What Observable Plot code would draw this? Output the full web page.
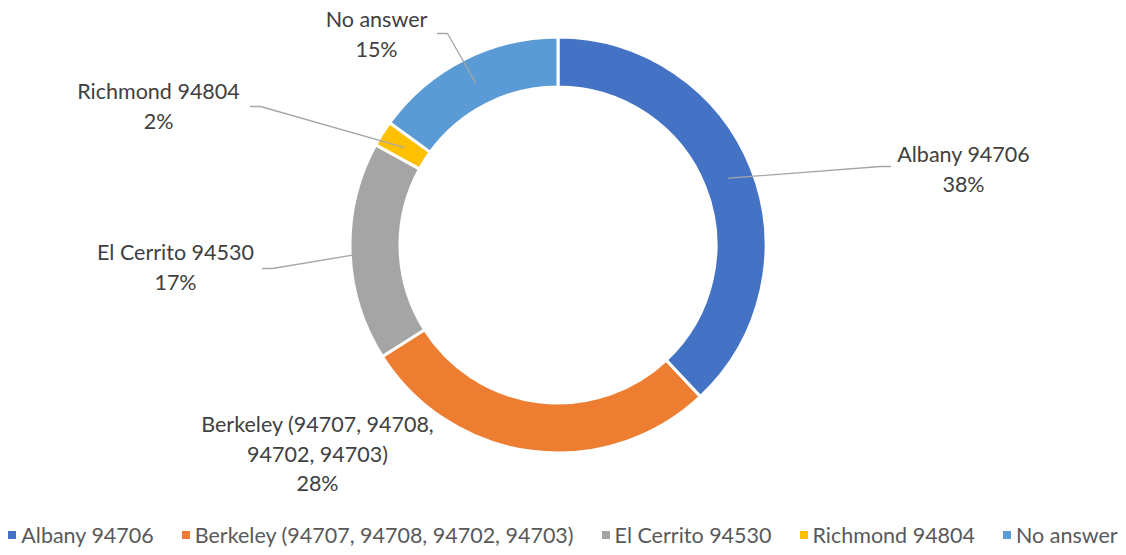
<!DOCTYPE html>
<html>
<head>
<meta charset="utf-8">
<script src="https://cdn.jsdelivr.net/npm/d3@7"></script>
<script src="https://cdn.jsdelivr.net/npm/@observablehq/plot@0.6"></script>
<style>
  html, body { margin: 0; padding: 0; background: #fff; }
  body { width: 1126px; height: 555px; overflow: hidden; font-family: Lato, "Open Sans", sans-serif; }
  #legend { display: flex; justify-content: center; align-items: center; height: 40px; color: #595959; font-size: 21.5px; gap: 28px; }
  #legend .item { display: flex; align-items: center; gap: 5px; white-space: nowrap; }
  #legend .sw { width: 8px; height: 8px; display: inline-block; }
</style>
</head>
<body>
<div id="chart"></div>
<div id="legend"></div>
<script>
// ---- data ----
const categories = ["Albany 94706", "Berkeley (94707, 94708, 94702, 94703)", "El Cerrito 94530", "Richmond 94804", "No answer"];
const shares = [38, 28, 17, 2, 15];
const labelText = ["Albany 94706", "Berkeley (94707, 94708,\n94702, 94703)", "El Cerrito 94530", "Richmond 94804", "No answer"];
const colors = ["#4472C4", "#ED7D31", "#A5A5A5", "#FFC000", "#5B9BD5"];

// ---- layout ----
const W = 1126, H = 515;
const cx = 558, cy = 245, rOuter = 208, rInner = 158;
const labelPos = [[963, 167], [317, 452], [175, 265], [158, 104], [376, 32]];
const leaderStart = [[890, 166], null, [262, 268], [250, 106], [437, 33]];

const pie = d3.pie().sort(null).value(d => d)(shares);
const rMid = (rOuter + rInner) / 2;

const slices = categories.map((c, i) => ({
  name: c, value: shares[i], color: colors[i],
  a0: pie[i].startAngle, a1: pie[i].endAngle,
  label: labelText[i] + "\n" + shares[i] + "%",
  lx: labelPos[i][0], ly: labelPos[i][1]
}));

const leaders = [];
slices.forEach((s, i) => {
  const st = leaderStart[i];
  if (!st) return;
  const am = (s.a0 + s.a1) / 2;
  const ex = cx + rMid * Math.sin(am), ey = cy - rMid * Math.cos(am);
  const dir = ex > st[0] ? 1 : -1;
  leaders.push({id: i, x: st[0], y: st[1]});
  leaders.push({id: i, x: st[0] + dir * 10, y: st[1]});
  leaders.push({id: i, x: ex, y: ey});
});

const arcGen = d3.arc().innerRadius(rInner).outerRadius(rOuter);

function donut(index, scales) {
  const g = d3.create("svg:g");
  const x0 = scales.x(cx), y0 = scales.y(cy);
  g.attr("transform", `translate(${x0},${y0})`);
  g.selectAll("path").data(slices).join("path")
    .attr("d", d => arcGen({startAngle: d.a0, endAngle: d.a1}))
    .attr("fill", d => d.color)
    .attr("stroke", "#fff")
    .attr("stroke-width", 3)
    .attr("stroke-linejoin", "miter");
  return g.node();
}

const chart = Plot.plot({
  width: W, height: H,
  margin: 0,
  x: {domain: [0, W], range: [0, W], axis: null},
  y: {domain: [0, H], range: [0, H], axis: null},
  style: {fontFamily: "Lato, 'Open Sans', sans-serif", background: "#fff"},
  marks: [
    donut,
    Plot.line(leaders, {x: "x", y: "y", z: "id", stroke: "#A6A6A6", strokeWidth: 1.3}),
    Plot.text(slices, {x: "lx", y: "ly", text: "label", fill: "#404040", fontSize: 21.5, lineHeight: 1.37, textAnchor: "middle"})
  ]
});
document.getElementById("chart").appendChild(chart);

const legend = document.getElementById("legend");
categories.forEach((c, i) => {
  const it = document.createElement("div");
  it.className = "item";
  it.innerHTML = `<span class="sw" style="background:${colors[i]}"></span><span>${c}</span>`;
  legend.appendChild(it);
});
</script>
</body>
</html>
